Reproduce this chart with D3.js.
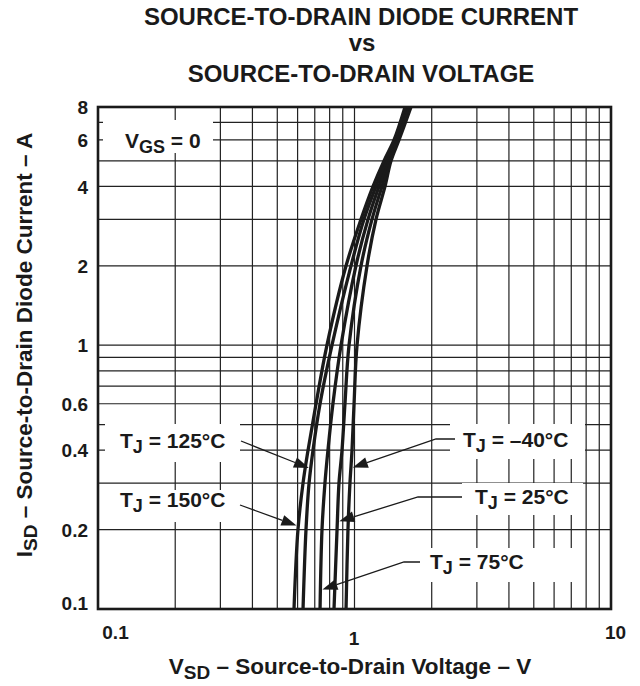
<!DOCTYPE html>
<html>
<head>
<meta charset="utf-8">
<script src="https://cdn.jsdelivr.net/npm/d3@7/dist/d3.min.js"></script>
<style>
  body { margin: 0; background: #fff; }
  text { font-family: "Liberation Sans", Arial, Helvetica, sans-serif; font-weight: bold; fill: #1a1a1a; }
</style>
</head>
<body>
<svg id="chart" width="640" height="686"></svg>
<script>
// Source-to-drain current levels (A) at which each curve is sampled
const currents = [0.1, 0.2, 0.3, 0.4, 0.6, 1, 2, 3, 4, 5, 6, 8];

// Source-to-drain voltage (V) per junction temperature, one value per current level
const vsdMinus40 = [0.927, 0.943, 0.960, 0.978, 0.996, 1.023, 1.119, 1.213, 1.315, 1.388, 1.491, 1.661];
const vsd25      = [0.832, 0.855, 0.870, 0.894, 0.918, 0.952, 1.060, 1.170, 1.280, 1.375, 1.478, 1.646];
const vsd75      = [0.734, 0.747, 0.767, 0.788, 0.824, 0.886, 1.013, 1.129, 1.246, 1.351, 1.465, 1.617];
const vsd125     = [0.630, 0.647, 0.665, 0.689, 0.734, 0.817, 0.969, 1.089, 1.213, 1.327, 1.439, 1.588];
const vsd150     = [0.581, 0.602, 0.630, 0.659, 0.708, 0.781, 0.927, 1.060, 1.181, 1.303, 1.426, 1.574];

const tempLabels = ["\u201340\u00B0C", "25\u00B0C", "75\u00B0C", "125\u00B0C", "150\u00B0C"];
const seriesValues = [vsdMinus40, vsd25, vsd75, vsd125, vsd150];

// Axis ticks
const xTickValues = [0.1, 1, 10];
const xTickLabels = ["0.1", "1", "10"];
const yTickValues = [0.1, 0.2, 0.4, 0.6, 1, 2, 4, 6, 8];
const yTickLabels = ["0.1", "0.2", "0.4", "0.6", "1", "2", "4", "6", "8"];
const xGridValues = [0.2, 0.3, 0.4, 0.5, 0.6, 0.7, 0.8, 0.9, 1, 2, 3, 4, 5, 6, 7, 8, 9];
const yGridValues = [0.2, 0.3, 0.4, 0.5, 0.6, 0.7, 0.8, 0.9, 1, 2, 3, 4, 5, 6, 7];

// Current at which each temperature's leader arrow touches its curve
const arrowCurrents = [0.342, 0.214, 0.118, 0.34, 0.206];

const svg = d3.select("#chart");
const plot = { left: 98, right: 611, top: 107, bottom: 609 };
const ink = "#1a1a1a";

const x = d3.scaleLog().domain([0.1, 10]).range([plot.left, plot.right]);
const y = d3.scaleLog().domain([0.1, 8]).range([plot.bottom, plot.top]);

// Title
const title = svg.append("g").attr("text-anchor", "middle");
title.append("text").attr("x", 361).attr("y", 25).attr("font-size", 24).text("SOURCE-TO-DRAIN DIODE CURRENT");
title.append("text").attr("x", 362).attr("y", 51).attr("font-size", 24).text("vs");
title.append("text").attr("x", 361).attr("y", 82).attr("font-size", 24).text("SOURCE-TO-DRAIN VOLTAGE");

// Grid
const grid = svg.append("g").attr("stroke", "#222").attr("stroke-width", 1.2);
grid.selectAll("line.vx").data(xGridValues).join("line")
  .attr("x1", d => x(d)).attr("x2", d => x(d))
  .attr("y1", plot.top).attr("y2", plot.bottom);
grid.selectAll("line.hy").data(yGridValues).join("line")
  .attr("y1", d => y(d)).attr("y2", d => y(d))
  .attr("x1", plot.left).attr("x2", plot.right);

// White backing boxes behind the annotations
const boxes = [
  [103, 120, 213, 153],
  [105, 424, 240, 462],
  [105, 490, 240, 522],
  [450, 424, 585, 459],
  [462, 483, 583, 515],
  [420, 548, 583, 582]
];
svg.append("g").selectAll("rect").data(boxes).join("rect")
  .attr("x", d => d[0]).attr("y", d => d[1])
  .attr("width", d => d[2] - d[0]).attr("height", d => d[3] - d[1])
  .attr("fill", "#fff");

// Frame
svg.append("rect")
  .attr("x", plot.left).attr("y", plot.top)
  .attr("width", plot.right - plot.left).attr("height", plot.bottom - plot.top)
  .attr("fill", "none").attr("stroke", ink).attr("stroke-width", 2.6);

// Axis labels (no tick marks, the grid does the job)
const xAxis = d3.axisBottom(x).tickValues(xTickValues)
  .tickFormat((d, i) => xTickLabels[i]).tickSize(0).tickPadding(0);
const gx = svg.append("g").attr("transform", `translate(0,${plot.bottom})`).call(xAxis);
gx.select(".domain").remove();
gx.selectAll("text").attr("font-size", 19).attr("fill", ink)
  .attr("font-family", "Liberation Sans, Arial, sans-serif").attr("font-weight", "bold")
  .attr("dy", (d) => d === 1 ? 36 : 30)
  .attr("dx", (d) => d === 0.1 ? 17 : (d === 10 ? 4 : -1));

const yAxis = d3.axisLeft(y).tickValues(yTickValues)
  .tickFormat((d, i) => yTickLabels[i]).tickSize(0).tickPadding(10);
const gy = svg.append("g").attr("transform", `translate(${plot.left},0)`).call(yAxis);
gy.select(".domain").remove();
gy.selectAll("text").attr("font-size", 19).attr("fill", ink)
  .attr("font-family", "Liberation Sans, Arial, sans-serif").attr("font-weight", "bold")
  .attr("dy", (d) => d === 0.1 ? "0.05em" : "0.35em");

// Axis titles
const xt = svg.append("text").attr("x", 350).attr("y", 674).attr("text-anchor", "middle").attr("font-size", 22.5);
xt.append("tspan").text("V");
xt.append("tspan").attr("dy", 5).attr("font-size", 19).text("SD");
xt.append("tspan").attr("dy", -5).text(" \u2013 Source-to-Drain Voltage \u2013 V");

const yt = svg.append("text").attr("transform", "translate(32,345) rotate(-90)")
  .attr("text-anchor", "middle").attr("font-size", 22.5);
yt.append("tspan").text("I");
yt.append("tspan").attr("dy", 5).attr("font-size", 19).text("SD");
yt.append("tspan").attr("dy", -5).text(" \u2013 Source-to-Drain Diode Current \u2013 A");

// Curves
svg.append("clipPath").attr("id", "plotClip").append("rect")
  .attr("x", plot.left).attr("y", plot.top)
  .attr("width", plot.right - plot.left).attr("height", plot.bottom - plot.top);

const line = d3.line()
  .x(d => x(d[0])).y(d => y(d[1]))
  .curve(d3.curveCatmullRom.alpha(0.5));

svg.append("g").attr("clip-path", "url(#plotClip)")
  .selectAll("path").data(seriesValues).join("path")
  .attr("d", vals => line(vals.map((v, i) => [v, currents[i]])))
  .attr("fill", "none").attr("stroke", ink).attr("stroke-width", 3.3);

// Voltage on a curve at a given current (log-log interpolation)
function voltageAt(vals, I) {
  for (let k = 0; k < currents.length - 1; k++) {
    if (I >= currents[k] && I <= currents[k + 1]) {
      const t = (Math.log(I) - Math.log(currents[k])) / (Math.log(currents[k + 1]) - Math.log(currents[k]));
      return Math.exp(Math.log(vals[k]) + t * (Math.log(vals[k + 1]) - Math.log(vals[k])));
    }
  }
  return vals[vals.length - 1];
}

// Annotation labels
function labelText(g, xPos, yPos, main, sub, rest) {
  const t = g.append("text").attr("x", xPos).attr("y", yPos).attr("font-size", 21);
  t.append("tspan").text(main);
  t.append("tspan").attr("dy", 5).attr("font-size", 18).text(sub);
  t.append("tspan").attr("dy", -5).text(rest);
}
const ann = svg.append("g");
labelText(ann, 125, 148, "V", "GS", " = 0");

// Label layout and leader start points, in the order of tempLabels
const labelLayout = [
  { tx: 463, ty: 447, leader: [[455, 439], [436, 439]] },
  { tx: 475, ty: 504, leader: [[462, 497], [418, 497]] },
  { tx: 430, ty: 569, leader: [[420, 562], [404, 562]] },
  { tx: 120, ty: 448, leader: [[241, 441]] },
  { tx: 120, ty: 507, leader: [[240, 505]] }
];

tempLabels.forEach((lab, i) => {
  const L = labelLayout[i];
  labelText(ann, L.tx, L.ty, "T", "J", " = " + lab);
  const I = arrowCurrents[i];
  const cx = x(voltageAt(seriesValues[i], I));
  const cy = y(I);
  const from = L.leader[L.leader.length - 1];
  const dx = cx - from[0], dy = cy - from[1];
  const len = Math.hypot(dx, dy);
  const ux = dx / len, uy = dy / len;
  // tip sits on the curve's outer edge
  const tipX = cx - ux * 2, tipY = cy - uy * 2;
  const headLen = 15, headW = 5.5;
  const bx = tipX - ux * headLen, by = tipY - uy * headLen;
  const pts = L.leader.concat([[bx, by]]);
  ann.append("path").attr("d", d3.line()(pts))
    .attr("fill", "none").attr("stroke", ink).attr("stroke-width", 1.3);
  ann.append("path")
    .attr("d", `M${tipX},${tipY}L${bx - uy * headW},${by + ux * headW}L${bx + uy * headW},${by - ux * headW}Z`)
    .attr("fill", ink);
});
</script>
</body>
</html>
